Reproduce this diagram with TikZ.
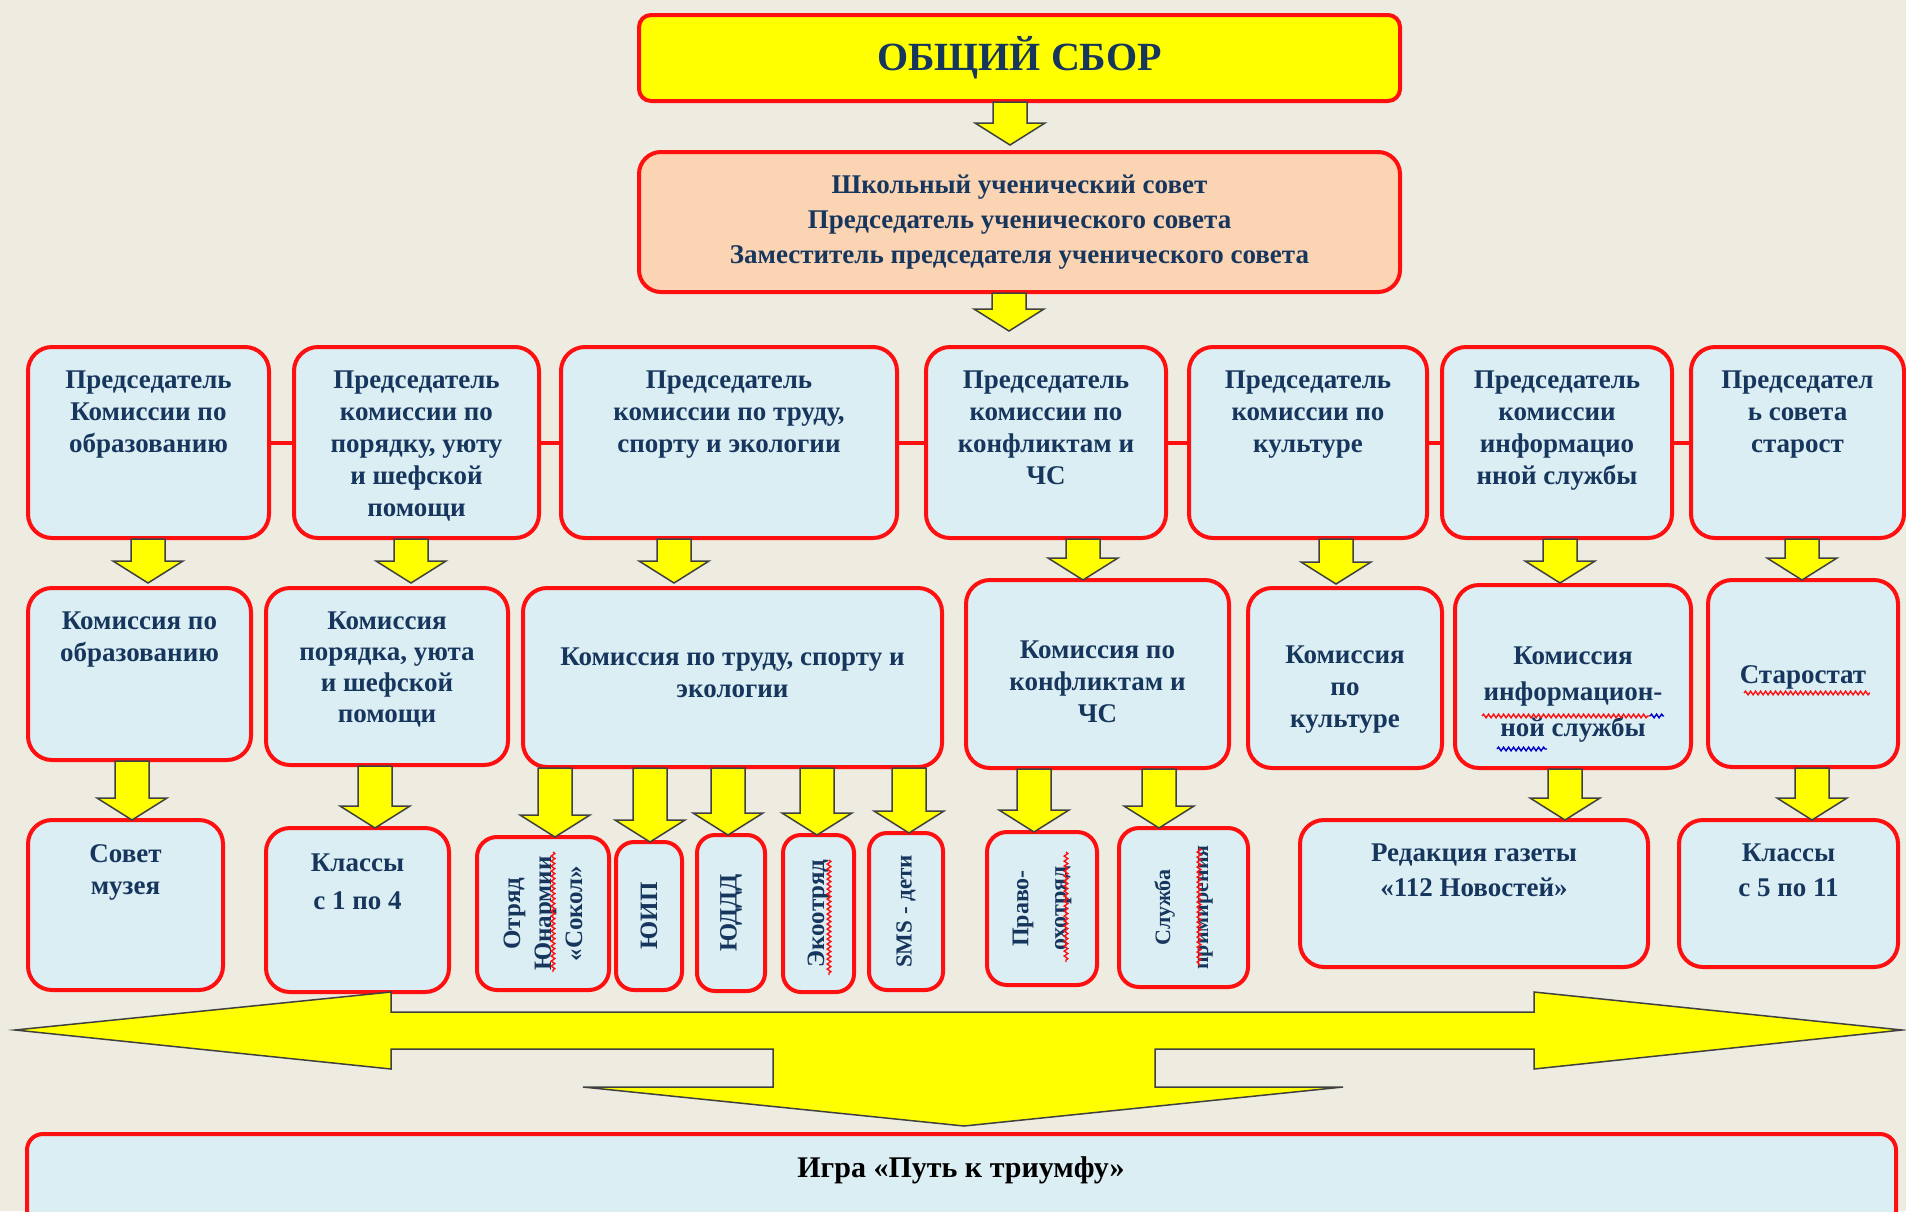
\documentclass[tikz,border=0pt]{standalone}
\usepackage{fontspec}
\setmainfont{Liberation Serif}
\usetikzlibrary{positioning,calc,fit,decorations.pathmorphing}
\definecolor{bgc}{HTML}{EEECE1}
\definecolor{boxc}{HTML}{DBEEF4}
\definecolor{peach}{HTML}{FBD4B4}
\definecolor{navy}{HTML}{17365D}
\definecolor{redb}{HTML}{FF1010}
\definecolor{yel}{HTML}{FFFF00}
\newcommand\dnarrow[4]{%
  \draw[yarrow] let \p1=(#2.south), \p2=(#3.north) in
    ({#1pt-17pt},{\y1-1pt}) -- ({#1pt+17pt},{\y1-1pt}) -- ({#1pt+17pt},{\y2+(#4pt)+22pt})
    -- ({#1pt+35pt},{\y2+(#4pt)+22pt}) -- ({#1pt},{\y2+(#4pt)})
    -- ({#1pt-35pt},{\y2+(#4pt)+22pt}) -- ({#1pt-17pt},{\y2+(#4pt)+22pt}) -- cycle;}
\begin{document}
\begin{tikzpicture}[x=1pt,y=1pt,
  bluebox/.style={draw=redb, line width=4pt, fill=boxc, rounded corners=24pt, inner sep=0pt, outer sep=0pt},
  txt/.style={text=navy, font=\bfseries\fontsize{27}{32}\selectfont, align=center, inner sep=0pt},
  vtxt/.style={text=navy, font=\bfseries\fontsize{25}{31}\selectfont, align=center, inner sep=0pt, rotate=90},
  yarrow/.style={fill=yel, draw=black!75, line width=1.5pt, line join=miter},
  link/.style={draw=redb, line width=4pt},
  squig/.style={decorate, decoration={snake, amplitude=1.8pt, segment length=5pt}, line width=1.4pt, draw=redb},
  bsquig/.style={squig, draw=blue!80!black},
]
\useasboundingbox (0,0) rectangle (1906,-1211);
\clip (0,0) rectangle (1906,-1211);
\fill[bgc] (0,0) rectangle (1906,-1211);

% top
\node[bluebox, fill=yel, rounded corners=12pt, fit={(639,-15) (1400,-101)}] (top) {};
\node[text=navy, font=\bfseries\fontsize{40}{46}\selectfont, inner sep=0pt] (ttop) at (top.center) {ОБЩИЙ СБОР};
\node[bluebox, fill=peach, rounded corners=22pt, fit={(639,-152) (1400,-292)}] (council) {};
\node[txt, font=\bfseries\fontsize{27}{35}\selectfont] (tcouncil) at (council.center) {Школьный ученический совет\\Председатель ученического совета\\Заместитель председателя ученического совета};

% row 1
\node[bluebox, fit={(28,-347) (269,-538)}] (p1) {};
\node[bluebox, fit={(294,-347) (539,-538)}] (p2) {};
\node[bluebox, fit={(561,-347) (897,-538)}] (p3) {};
\node[bluebox, fit={(926,-347) (1166,-538)}] (p4) {};
\node[bluebox, fit={(1189,-347) (1427,-538)}] (p5) {};
\node[bluebox, fit={(1442,-347) (1672,-538)}] (p6) {};
\node[bluebox, fit={(1691,-347) (1904,-538)}] (p7) {};
\draw[link] (p1) -- (p2);
\draw[link] (p2) -- (p3);
\draw[link] (p3) -- (p4);
\draw[link] (p4) -- (p5);
\draw[link] (p5) -- (p6);
\draw[link] (p6) -- (p7);
\node[txt, below=24pt of p1.north] (tp1) {Председатель\\Комиссии по\\образованию};
\node[txt, below=24pt of p2.north] (tp2) {Председатель\\комиссии по\\порядку, уюту\\и шефской\\помощи};
\node[txt, below=24pt of p3.north] (tp3) {Председатель\\комиссии по труду,\\спорту и экологии};
\node[txt, below=24pt of p4.north] (tp4) {Председатель\\комиссии по\\конфликтам и\\ЧС};
\node[txt, below=24pt of p5.north] (tp5) {Председатель\\комиссии по\\культуре};
\node[txt, below=24pt of p6.north] (tp6) {Председатель\\комиссии\\информацио\\нной службы};
\node[txt, below=24pt of p7.north] (tp7) {Председател\\ь совета\\старост};

% row 2
\node[bluebox, fit={(28,-588) (251,-760)}] (c1) {};
\node[bluebox, fit={(266,-588) (508,-765)}] (c2) {};
\node[bluebox, fit={(523,-588) (942,-767)}] (c3) {};
\node[bluebox, fit={(966,-580) (1229,-768)}] (c4) {};
\node[bluebox, fit={(1248,-588) (1442,-768)}] (c5) {};
\node[bluebox, fit={(1455,-585) (1691,-768)}] (c6) {};
\node[bluebox, fit={(1708,-580) (1898,-767)}] (c7) {};
\node[txt, below=24pt of c1.north] (tc1) {Комиссия по\\образованию};
\node[txt, font=\bfseries\fontsize{27}{31}\selectfont, below=24pt of c2.north] (tc2) {Комиссия\\порядка, уюта\\и шефской\\помощи};
\node[txt] (tc3) at ([yshift=5pt]c3.center) {Комиссия по труду, спорту и\\экологии};
\node[txt] (tc4) at ([yshift=-8pt]c4.center) {Комиссия по\\конфликтам и\\ЧС};
\node[txt] (tc5) at ([yshift=-12pt]c5.center) {Комиссия\\по\\культуре};
\node[txt, font=\bfseries\fontsize{27}{36}\selectfont] (tc6) at ([yshift=-18pt]c6.center) {Комиссия\\информацион-\\ной службы};
\node[txt] (tc7) at ([yshift=-4pt]c7.center) {Старостат};

% row 3
\node[bluebox, fit={(28,-820) (223,-990)}] (r1) {};
\node[bluebox, fit={(266,-828) (449,-992)}] (r2) {};
\node[bluebox, rounded corners=20pt, fit={(477,-837) (609,-990)}] (r3) {};
\node[bluebox, rounded corners=18pt, fit={(616,-842) (682,-990)}] (r4) {};
\node[bluebox, rounded corners=18pt, fit={(697,-835) (765,-991)}] (r5) {};
\node[bluebox, rounded corners=18pt, fit={(783,-835) (854,-992)}] (r6) {};
\node[bluebox, rounded corners=18pt, fit={(869,-833) (943,-990)}] (r7) {};
\node[bluebox, rounded corners=20pt, fit={(987,-832) (1097,-985)}] (r8) {};
\node[bluebox, rounded corners=20pt, fit={(1119,-828) (1248,-987)}] (r9) {};
\node[bluebox, fit={(1300,-820) (1648,-967)}] (r10) {};
\node[bluebox, fit={(1679,-820) (1898,-967)}] (r11) {};
\node[txt, below=24pt of r1.north] (tr1) {Совет\\музея};
\node[txt, font=\bfseries\fontsize{27}{38}\selectfont, below=26pt of r2.north] (tr2) {Классы\\с 1 по 4};
\node[vtxt] (tr3) at (r3.center) {Отряд\\Юнармии\\«Сокол»};
\node[vtxt] (tr4) at (r4.center) {ЮИП};
\node[vtxt] (tr5) at (r5.center) {ЮДДД};
\node[vtxt] (tr6) at (r6.center) {Экоотряд};
\node[vtxt, font=\bfseries\fontsize{23}{31}\selectfont] (tr7) at (r7.center) {SMS - дети};
\node[vtxt, font=\bfseries\fontsize{24}{38}\selectfont] (tr8) at (r8.center) {Право-\\охотряд};
\node[vtxt, font=\bfseries\fontsize{22}{38}\selectfont] (tr9) at (r9.center) {Служба\\примирения};
\node[txt, font=\bfseries\fontsize{27}{35}\selectfont, below=24pt of r10.north] (tr10) {Редакция газеты\\«112 Новостей»};
\node[txt, font=\bfseries\fontsize{27}{35}\selectfont, below=24pt of r11.north] (tr11) {Классы\\с 5 по 11};

% spelling squiggles
\draw[squig] (1482,-716) -- (1650,-716);
\draw[bsquig] (1650,-716) -- (1664,-716);
\draw[bsquig] (1497,-749) -- (1547,-749);
\draw[squig] (1744,-693) -- (1870,-693);
\draw[squig] (553,-852) -- (553,-972);
\draw[squig] (829,-860) -- (829,-975);
\draw[squig] (1066,-852) -- (1066,-962);
\draw[squig] (1199,-848) -- (1199,-966);

% arrows
\dnarrow{1010}{top}{council}{7}
\dnarrow{1009}{council}{p4}{16}
\dnarrow{148}{p1}{c1}{5}
\dnarrow{411}{p2}{c2}{5}
\dnarrow{674}{p3}{c3}{5}
\dnarrow{1083}{p4}{c4}{0}
\dnarrow{1336}{p5}{c5}{4}
\dnarrow{1560}{p6}{c6}{2}
\dnarrow{1802}{p7}{c7}{0}
\dnarrow{132}{c1}{r1}{0}
\dnarrow{375}{c2}{r2}{0}
\dnarrow{555}{c3}{r3}{0}
\dnarrow{650}{c3}{r4}{0}
\dnarrow{728}{c3}{r5}{0}
\dnarrow{817}{c3}{r6}{0}
\dnarrow{909}{c3}{r7}{0}
\dnarrow{1034}{c4}{r8}{0}
\dnarrow{1159}{c4}{r9}{0}
\dnarrow{1565}{c6}{r10}{0}
\dnarrow{1812}{c7}{r11}{0}

% big arrow
\draw[yarrow] (15,-1030) -- (391,-992) -- (391,-1012) -- (1534,-1012) -- (1534,-992) -- (1902,-1030)
  -- (1534,-1069) -- (1534,-1049) -- (1155,-1049) -- (1155,-1087) -- (1343,-1087) -- (964,-1126)
  -- (583,-1087) -- (773,-1087) -- (773,-1049) -- (391,-1049) -- (391,-1069) -- cycle;

% bottom
\node[bluebox, rounded corners=16pt, fit={(27,-1134) (1896,-1250)}] (game) {};
\node[text=black, font=\bfseries\fontsize{30}{36}\selectfont, inner sep=0pt] (tgame) at (961,-1170) {Игра «Путь к триумфу»};
\end{tikzpicture}
\end{document}
